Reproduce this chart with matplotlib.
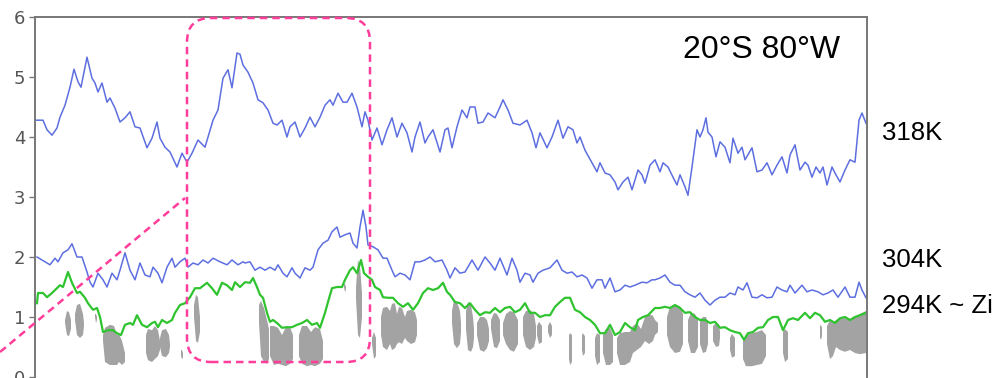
import numpy as np
import matplotlib
matplotlib.use("Agg")
import matplotlib.pyplot as plt
from matplotlib.patches import FancyBboxPatch
from matplotlib.lines import Line2D

# time axis is in record steps (no labels shown on the original)
t318 = [36, 43, 47, 52, 57, 60, 65, 70, 74, 78, 81, 87, 92, 95, 98, 102, 107, 110, 115, 120,
        125, 130, 135, 140, 147, 152, 157, 160, 165, 170, 177, 182, 187, 192, 198, 205, 208, 213, 218, 223,
        228, 232, 237, 240, 243, 248, 253, 258, 263, 268, 273, 277, 282, 287, 290, 295, 300, 305, 310, 315,
        320, 325, 330, 333, 338, 343, 347, 352, 357, 362, 365, 368, 372, 377, 382, 387, 392, 397, 402, 407,
        412, 415, 420, 425, 428, 433, 440, 445, 448, 452, 457, 462, 467, 470, 475, 478, 483, 488, 495, 500,
        503, 508, 513, 520, 527, 532, 536, 540, 547, 552, 558, 563, 568, 573, 577, 580, 585, 592, 597, 600,
        605, 610, 615, 618, 623, 628, 632, 638, 642, 645, 650, 655, 660, 663, 668, 673, 677, 680, 685, 688,
        692, 697, 700, 703, 706, 708, 712, 716, 720, 725, 730, 733, 738, 742, 745, 752, 757, 762, 767, 772,
        777, 782, 787, 790, 795, 800, 805, 808, 812, 816, 820, 823, 827, 832, 835, 840, 845, 850, 855, 859,
        862, 866]
v318 = [4.28, 4.28, 4.12, 4.03, 4.15, 4.33, 4.53, 4.83, 5.13, 4.92, 4.83, 5.33, 4.98, 4.90, 4.75, 4.90, 4.58, 4.65, 4.48, 4.25,
        4.32, 4.42, 4.17, 4.15, 3.82, 3.98, 4.25, 3.98, 3.83, 3.75, 3.50, 3.73, 3.58, 3.73, 3.95, 3.83, 4.00, 4.28, 4.45, 4.98,
        5.12, 4.82, 5.40, 5.38, 5.20, 5.08, 4.90, 4.62, 4.57, 4.45, 4.23, 4.20, 4.28, 4.00, 4.17, 4.25, 4.00, 4.15, 4.33, 4.17,
        4.33, 4.53, 4.62, 4.53, 4.73, 4.58, 4.58, 4.73, 4.50, 4.17, 4.42, 4.28, 3.95, 4.15, 3.87, 4.12, 4.32, 4.00, 4.23, 4.07,
        3.75, 4.00, 4.25, 3.90, 4.00, 4.12, 3.75, 4.12, 4.15, 3.82, 4.17, 4.45, 4.32, 4.50, 4.50, 4.23, 4.25, 4.40, 4.32, 4.50,
        4.62, 4.45, 4.23, 4.20, 4.28, 4.07, 3.82, 4.07, 3.82, 4.00, 4.28, 3.98, 4.17, 4.12, 3.90, 4.00, 3.78, 3.57, 3.42, 3.57,
        3.40, 3.37, 3.25, 3.12, 3.25, 3.33, 3.12, 3.45, 3.37, 3.23, 3.53, 3.62, 3.42, 3.57, 3.50, 3.33, 3.20, 3.37, 3.17, 3.03,
        3.50, 4.12, 4.00, 4.12, 4.32, 4.08, 4.00, 3.67, 3.92, 3.83, 3.57, 3.98, 3.73, 3.83, 3.62, 3.82, 3.42, 3.45, 3.57, 3.37,
        3.53, 3.67, 3.40, 3.70, 3.87, 3.45, 3.58, 3.53, 3.33, 3.50, 3.40, 3.50, 3.20, 3.50, 3.40, 3.25, 3.45, 3.62, 3.58, 4.28,
        4.40, 4.23]

t304 = [37, 42, 50, 55, 58, 63, 68, 72, 77, 82, 87, 90, 93, 98, 103, 107, 112, 117, 120, 125,
        130, 135, 140, 145, 150, 153, 158, 162, 167, 172, 175, 180, 185, 188, 193, 198, 203, 208, 213, 220,
        227, 232, 238, 243, 245, 250, 255, 260, 265, 270, 275, 278, 283, 287, 292, 295, 300, 305, 310, 313,
        318, 323, 328, 332, 337, 340, 345, 350, 353, 357, 360, 363, 366, 368, 373, 378, 383, 387, 392, 395,
        400, 405, 410, 415, 420, 425, 430, 435, 442, 447, 450, 455, 460, 465, 472, 478, 485, 490, 495, 500,
        507, 512, 517, 520, 525, 530, 533, 538, 543, 550, 557, 562, 567, 572, 577, 582, 587, 592, 597, 602,
        605, 610, 615, 620, 625, 630, 635, 642, 647, 652, 655, 660, 665, 670, 675, 680, 685, 690, 695, 700,
        705, 710, 715, 720, 725, 730, 735, 738, 743, 747, 752, 757, 762, 767, 772, 777, 782, 787, 790, 795,
        802, 807, 812, 818, 823, 828, 833, 838, 845, 850, 855, 859, 862, 866]
v304 = [2.00, 1.95, 1.87, 1.98, 1.92, 2.07, 2.12, 2.22, 2.00, 2.00, 1.75, 1.58, 1.50, 1.73, 1.62, 1.50, 1.73, 1.62, 1.78, 2.07,
        1.78, 1.62, 1.90, 1.70, 1.67, 1.83, 1.73, 1.57, 1.83, 1.98, 1.83, 1.92, 1.98, 1.83, 1.90, 1.87, 1.95, 1.90, 1.98, 1.92,
        1.87, 1.95, 1.87, 1.92, 1.90, 1.92, 1.78, 1.83, 1.78, 1.83, 1.78, 1.87, 1.73, 1.67, 1.82, 1.73, 1.65, 1.82, 1.78, 1.83,
        2.12, 2.23, 2.28, 2.42, 2.50, 2.33, 2.37, 2.40, 2.23, 2.15, 2.50, 2.78, 2.50, 2.20, 2.17, 2.12, 1.98, 1.98, 1.78, 1.67,
        1.73, 1.70, 1.62, 1.92, 1.92, 1.95, 2.00, 1.92, 1.95, 1.78, 1.65, 1.82, 1.73, 1.75, 1.95, 1.78, 2.00, 1.90, 1.78, 1.98,
        1.70, 1.98, 1.78, 1.58, 1.73, 1.70, 1.58, 1.73, 1.78, 1.82, 1.95, 1.78, 1.73, 1.75, 1.67, 1.70, 1.65, 1.48, 1.62, 1.62,
        1.48, 1.65, 1.42, 1.45, 1.53, 1.50, 1.53, 1.58, 1.57, 1.62, 1.62, 1.65, 1.70, 1.58, 1.53, 1.53, 1.42, 1.37, 1.33, 1.40,
        1.28, 1.20, 1.28, 1.33, 1.33, 1.40, 1.37, 1.50, 1.45, 1.57, 1.33, 1.32, 1.37, 1.32, 1.33, 1.50, 1.45, 1.42, 1.53, 1.40,
        1.53, 1.42, 1.45, 1.42, 1.37, 1.40, 1.45, 1.33, 1.50, 1.33, 1.33, 1.58, 1.45, 1.32]

t294 = [37, 38, 43, 47, 52, 57, 60, 63, 68, 72, 77, 80, 85, 88, 93, 97, 100, 103, 108, 113,
        117, 121, 125, 130, 133, 137, 142, 147, 152, 155, 158, 162, 167, 172, 175, 180, 185, 190, 195, 200,
        207, 212, 217, 222, 227, 232, 235, 240, 245, 250, 253, 257, 260, 263, 267, 270, 273, 277, 282, 287,
        292, 297, 302, 307, 312, 317, 320, 325, 328, 332, 337, 342, 345, 350, 353, 357, 361, 364, 368, 372,
        375, 380, 383, 388, 393, 398, 403, 408, 413, 418, 423, 428, 433, 438, 443, 447, 450, 455, 460, 465,
        470, 475, 480, 485, 490, 495, 500, 505, 510, 515, 520, 525, 530, 535, 540, 545, 550, 555, 560, 565,
        570, 575, 580, 585, 590, 595, 600, 605, 610, 615, 620, 625, 630, 635, 638, 643, 648, 655, 660, 665,
        670, 675, 680, 685, 690, 695, 700, 705, 710, 715, 720, 725, 730, 735, 740, 744, 748, 753, 758, 763,
        768, 773, 778, 783, 788, 793, 798, 805, 810, 815, 820, 825, 830, 835, 840, 845, 850, 855, 860, 866]
v294 = [1.23, 1.40, 1.40, 1.33, 1.40, 1.48, 1.53, 1.50, 1.75, 1.57, 1.40, 1.42, 1.32, 1.23, 1.12, 1.15, 1.00, 0.75, 0.78, 0.78,
        0.73, 0.70, 0.87, 0.90, 0.87, 1.03, 0.87, 0.83, 0.90, 0.92, 0.83, 0.95, 0.90, 0.95, 1.07, 1.20, 1.23, 1.33, 1.48, 1.48,
        1.57, 1.48, 1.37, 1.57, 1.53, 1.45, 1.58, 1.50, 1.58, 1.57, 1.65, 1.50, 1.37, 1.32, 1.07, 0.92, 0.95, 0.90, 0.82, 0.83,
        0.83, 0.87, 0.90, 0.95, 0.87, 0.90, 0.82, 1.07, 1.25, 1.48, 1.50, 1.50, 1.62, 1.78, 1.83, 1.73, 1.95, 1.73, 1.67, 1.62,
        1.50, 1.45, 1.33, 1.32, 1.32, 1.23, 1.17, 1.23, 1.12, 1.23, 1.40, 1.48, 1.45, 1.48, 1.57, 1.42, 1.37, 1.25, 1.23, 1.15,
        1.23, 1.12, 1.03, 1.08, 1.07, 1.15, 1.08, 1.15, 1.17, 1.08, 1.12, 1.23, 1.07, 1.07, 1.00, 1.03, 1.03, 1.17, 1.25, 1.32,
        1.32, 1.12, 1.08, 1.00, 0.95, 0.87, 0.73, 0.73, 0.87, 0.70, 0.75, 0.90, 0.83, 0.78, 0.95, 1.00, 1.03, 1.15, 1.15, 1.17,
        1.15, 1.20, 1.15, 1.07, 1.08, 1.00, 0.95, 0.95, 0.90, 0.92, 0.82, 0.83, 0.78, 0.75, 0.73, 0.62, 0.73, 0.75, 0.82, 0.83,
        0.95, 1.00, 1.00, 0.78, 0.95, 0.98, 0.95, 1.07, 0.98, 1.07, 1.03, 0.92, 0.95, 0.90, 0.98, 1.00, 0.95, 1.00, 1.03, 1.07]

nan = np.nan
# cloud layer: top and base, blobs separated by nan
cloud_t = [65, 67, 69, 71, nan, 75, 77, 80, 83, 84, nan, 95, 96, 97, nan,
           103, 105, 110, 114, 117, 119, 122, 125, nan,
           146, 148, 152, 155, 158, 160, nan, 160, 162, 166, 169, 170, nan, 181, 182, 183, nan,
           194, 196, 198, 200, nan,
           259, 261, 264, 267, 269, nan, 270, 274, 278, 282, 286, 290, 293, nan,
           299, 302, 307, 311, 315, 320, 323, nan, 344, 345, 346, nan, 356, 358, 360, 362, nan,
           372, 374, 376, nan,
           381, 383, 387, 390, 392, 395, 397, 399, 402, 405, 407, 411, 415, 417, nan,
           452, 454, 457, 460, 461, nan, 466, 468, 471, 473, 474, nan, 477, 480, 484, 487, 489, nan,
           491, 494, 497, 500, nan, 503, 506, 510, 514, 518, nan, 523, 526, 530, 534, 536, nan,
           537, 539, 542, nan, 548, 550, 552, nan, 569, 570, 572, nan, 582, 583, 585, nan,
           595, 597, 600, nan, 603, 606, 610, 613, nan,
           617, 620, 625, 630, 633, 637, 641, 645, 649, 653, 655, 658, nan,
           667, 670, 675, 680, 683, nan, 688, 691, 695, 698, nan, 700, 703, 706, 708, nan,
           713, 716, 719, 720, nan, 730, 732, 735, nan,
           743, 746, 752, 757, 762, 766, nan, 783, 785, 788, nan, 820, 821, 822, nan,
           827, 830, 833, 836, 840, 845, 850, 855, 860, 866]
cloud_top = [0.95, 1.10, 1.08, 0.95, nan, 1.05, 1.20, 1.22, 1.05, 0.90, nan, 1.05, 1.05, 1.00, nan,
             0.70, 0.82, 0.87, 0.85, 0.70, 0.72, 0.60, 0.40, nan,
             0.70, 0.80, 0.78, 0.85, 0.78, 0.60, nan, 0.65, 0.78, 0.80, 0.70, 0.55, nan, 0.45, 0.45, 0.40, nan,
             1.20, 1.37, 1.33, 1.00, nan,
             1.20, 1.27, 1.15, 0.95, 0.80, nan, 0.85, 0.85, 0.82, 0.70, 0.83, 0.83, 0.70, nan,
             0.70, 0.85, 0.85, 0.75, 0.83, 0.80, 0.60, nan, 1.55, 1.55, 1.50, nan, 1.50, 1.95, 1.85, 1.40, nan,
             0.65, 0.75, 0.65, nan,
             1.00, 1.15, 1.17, 1.10, 1.22, 1.23, 1.05, 1.17, 1.15, 1.00, 1.10, 1.12, 1.08, 0.95, nan,
             1.10, 1.28, 1.25, 1.10, 0.90, nan, 1.10, 1.25, 1.20, 1.00, 0.80, nan, 0.90, 1.00, 1.00, 0.95, 0.80, nan,
             0.95, 1.07, 1.05, 0.95, nan, 0.90, 1.05, 1.10, 1.08, 0.95, nan, 1.00, 1.10, 1.12, 1.05, 0.85, nan,
             0.85, 0.92, 0.85, nan, 0.85, 0.92, 0.85, nan, 0.70, 0.73, 0.70, nan, 0.70, 0.73, 0.68, nan,
             0.65, 0.73, 0.70, nan, 0.70, 0.80, 0.82, 0.70, nan,
             0.65, 0.73, 0.75, 0.75, 0.85, 0.90, 0.80, 1.00, 1.05, 1.02, 0.95, 0.90, nan,
             1.00, 1.17, 1.20, 1.18, 1.05, nan, 0.95, 1.07, 1.05, 0.95, nan, 0.95, 1.00, 1.00, 0.90, nan,
             0.85, 0.90, 0.88, 0.75, nan, 0.65, 0.72, 0.65, nan,
             0.60, 0.70, 0.73, 0.75, 0.78, 0.70, nan, 0.75, 0.80, 0.75, nan, 0.85, 0.87, 0.82, nan,
             0.85, 0.95, 0.90, 0.95, 0.98, 0.98, 0.95, 1.00, 1.05, 1.10]
cloud_base = [0.90, 0.70, 0.68, 0.80, nan, 0.95, 0.70, 0.65, 0.70, 0.85, nan, 1.00, 0.90, 0.95, nan,
              0.60, 0.25, 0.20, 0.20, 0.20, 0.25, 0.20, 0.25, nan,
              0.40, 0.28, 0.25, 0.30, 0.35, 0.45, nan, 0.50, 0.35, 0.33, 0.40, 0.50, nan, 0.35, 0.30, 0.32, nan,
              1.00, 0.60, 0.57, 0.75, nan,
              0.90, 0.35, 0.25, 0.22, 0.30, nan, 0.35, 0.20, 0.22, 0.20, 0.18, 0.22, 0.30, nan,
              0.35, 0.22, 0.18, 0.20, 0.18, 0.22, 0.30, nan, 1.50, 1.42, 1.45, nan, 1.30, 0.70, 0.65, 1.00, nan,
              0.55, 0.30, 0.35, nan,
              0.70, 0.50, 0.45, 0.55, 0.45, 0.48, 0.55, 0.58, 0.55, 0.65, 0.60, 0.55, 0.58, 0.70, nan,
              0.90, 0.55, 0.48, 0.55, 0.75, nan, 0.80, 0.45, 0.42, 0.50, 0.65, nan, 0.70, 0.45, 0.42, 0.48, 0.60, nan,
              0.80, 0.50, 0.48, 0.60, nan, 0.70, 0.55, 0.45, 0.42, 0.55, nan, 0.70, 0.50, 0.45, 0.50, 0.65, nan,
              0.70, 0.55, 0.58, nan, 0.75, 0.65, 0.70, nan, 0.30, 0.20, 0.25, nan, 0.45, 0.35, 0.40, nan,
              0.35, 0.20, 0.25, nan, 0.40, 0.20, 0.20, 0.25, nan,
              0.40, 0.20, 0.20, 0.25, 0.40, 0.45, 0.50, 0.60, 0.55, 0.60, 0.70, 0.75, nan,
              0.70, 0.50, 0.40, 0.42, 0.55, nan, 0.60, 0.40, 0.40, 0.50, nan, 0.55, 0.40, 0.42, 0.55, nan,
              0.60, 0.50, 0.52, 0.65, nan, 0.45, 0.32, 0.35, nan,
              0.30, 0.18, 0.18, 0.20, 0.22, 0.35, nan, 0.40, 0.25, 0.30, nan, 0.65, 0.62, 0.68, nan,
              0.55, 0.30, 0.35, 0.50, 0.45, 0.42, 0.45, 0.40, 0.38, 0.40]

labels = ["318K", "304K", "294K ~ Zi"]
site = "20°S 80°W"

fig = plt.figure(figsize=(10, 3.78), dpi=100)
ax = fig.add_axes([0.035, 1 / 378, 0.832, 360 / 378])

ax.fill_between(cloud_t, cloud_base, cloud_top, color="#a3a3a3", lw=0)
ax.plot(t318, v318, color="#5d6fe0", lw=1.1)
ax.plot(t304, v304, color="#5d6fe0", lw=1.1)
ax.plot(t294, v294, color="#2fc42f", lw=1.6)

ax.set_xlim(35, 867)
ax.set_ylim(0, 6)
ax.set_xticks([])
ax.set_yticks(range(7))
ax.tick_params(axis="y", length=4, width=1, color="#777777", labelcolor="#555555",
               labelsize=13, pad=3)
for s in ["left", "top", "right"]:
    ax.spines[s].set_color("#777777")
    ax.spines[s].set_linewidth(1.4)
ax.spines["bottom"].set_visible(False)

tr = fig.dpi_scale_trans
pink = "#ff3d9a"
box = FancyBboxPatch((1.87, 0.16), 1.83, 3.44, boxstyle="round,pad=0,rounding_size=0.24",
                     transform=tr, fill=False, ec=pink, lw=1.8, ls=(0, (3, 2)))
fig.patches.append(box)
fig.lines.append(Line2D([0.0, 1.85], [0.26, 1.80], transform=tr, color=pink, lw=1.8,
                        ls=(0, (3, 2))))

fig.text(0.840, 1 - 58 / 378, site, ha="right", va="baseline", fontsize=23,
         family="Liberation Sans")
for txt, yb in zip(labels, [140, 267, 313]):
    fig.text(0.882, 1 - yb / 378, txt, ha="left", va="baseline", fontsize=18.5,
             family="Liberation Sans")

fig.savefig("out.png", dpi=100)
